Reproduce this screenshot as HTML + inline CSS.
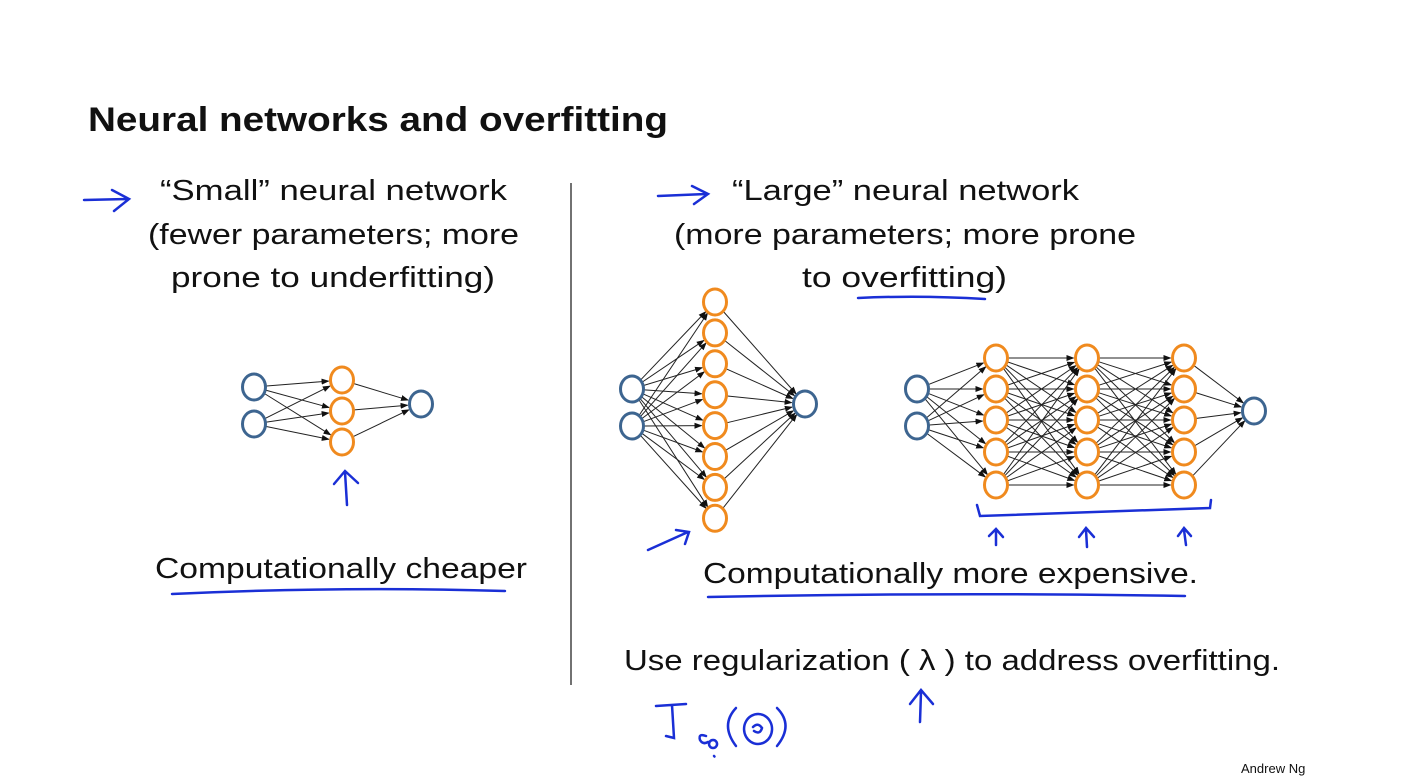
<!DOCTYPE html>
<html><head><meta charset="utf-8"><style>
html,body{margin:0;padding:0;background:#fff;}
svg{display:block;}
text{font-family:"Liberation Sans",sans-serif;fill:#111;}
</style></head><body>
<svg id="s" width="1419" height="780" viewBox="0 0 1419 780" xmlns="http://www.w3.org/2000/svg">
<defs><marker id="a" markerWidth="8" markerHeight="8" refX="7" refY="4" orient="auto" markerUnits="userSpaceOnUse"><path d="M0,1 L8,4 L0,7 z" fill="#111"/></marker></defs>
<text x="88" y="131" font-size="34" font-weight="bold" textLength="580" lengthAdjust="spacingAndGlyphs">Neural networks and overfitting</text>
<g font-size="29">
<text x="160" y="200" textLength="347" lengthAdjust="spacingAndGlyphs">“Small” neural network</text>
<text x="148" y="244" textLength="371" lengthAdjust="spacingAndGlyphs">(fewer parameters; more</text>
<text x="171" y="287" textLength="324" lengthAdjust="spacingAndGlyphs">prone to underfitting)</text>
<text x="732" y="200" textLength="347" lengthAdjust="spacingAndGlyphs">“Large” neural network</text>
<text x="674" y="244" textLength="462" lengthAdjust="spacingAndGlyphs">(more parameters; more prone</text>
<text x="802" y="287" textLength="205" lengthAdjust="spacingAndGlyphs">to overfitting)</text>
<text x="155" y="578" textLength="372" lengthAdjust="spacingAndGlyphs">Computationally cheaper</text>
<text x="703" y="583" textLength="495" lengthAdjust="spacingAndGlyphs">Computationally more expensive.</text>
<text x="624" y="670" textLength="656" lengthAdjust="spacingAndGlyphs">Use regularization ( λ ) to address overfitting.</text>
</g>
<text x="1241" y="773" font-size="13">Andrew Ng</text>
<line x1="571" y1="183" x2="571" y2="685" stroke="#444" stroke-width="1.5"/>
<g id="net"></g>
<g fill="none" stroke="#1a2fd6" stroke-width="2.5" stroke-linecap="round">
<path d="M84,200 L127,199 M112,190 L129,199 L114,211"/>
<path d="M658,196 L706,194 M692,186 L708,194 L694,204"/>
<path d="M858,298 Q920,295 985,299"/>
<path d="M172,594 Q340,586 505,591"/>
<path d="M708,597 Q950,592 1185,596"/>
<path d="M347,505 L345,472 M334,484 L345,471 L358,483"/>
<path d="M648,550 L688,532 M676,530 L689,532 L685,544"/>
<path d="M977,505 L980,516 Q1100,512 1210,508 L1211,500"/>
<path d="M996,545 L996,530 M989,536 L996,529 L1003,537"/>
<path d="M1087,547 L1086,530 M1079,537 L1086,528 L1094,537"/>
<path d="M1186,545 L1184,530 M1178,536 L1184,528 L1191,536"/>
<path d="M920,722 L921,692 M910,704 L921,690 L933,704"/>
<path d="M656,706 L686,704 M672,705 L674,738 L666,736"/>
<path d="M706,736 Q698,733 700,740 Q703,745 708,742"/>
<path d="M713,740 a4,4 0 1 0 0.1,0"/>
<path d="M736,708 Q720,725 736,746"/>
<path d="M758,714 a14,15 0 1 0 0.1,0"/>
<path d="M753,727 Q758,722 762,728 Q760,735 754,731"/>
<path d="M777,708 Q794,725 777,746"/>
<path d="M714,756 l0.5,0.5"/>
</g>
</svg>
<script>
var g=document.getElementById('net'),NS='http://www.w3.org/2000/svg',N=[];
function line(a,b){var dx=b[0]-a[0],dy=b[1]-a[1],d=Math.hypot(dx,dy),r=12.5;
var l=document.createElementNS(NS,'line');l.setAttribute('x1',a[0]+dx/d*r);l.setAttribute('y1',a[1]+dy/d*r);
l.setAttribute('x2',b[0]-dx/d*(r+1));l.setAttribute('y2',b[1]-dy/d*(r+1));l.setAttribute('stroke','#222');l.setAttribute('stroke-width','1');l.setAttribute('marker-end','url(#a)');g.appendChild(l);}
function node(p,c){var e=document.createElementNS(NS,'ellipse');e.setAttribute('cx',p[0]);e.setAttribute('cy',p[1]);e.setAttribute('rx',11.5);e.setAttribute('ry',13);e.setAttribute('fill','#fff');e.setAttribute('stroke',c);e.setAttribute('stroke-width','3');N.push(e);}
function net(layers){for(var i=0;i<layers.length-1;i++)layers[i].forEach(function(a){layers[i+1].forEach(function(b){line(a,b);});});
layers.forEach(function(ly,i){ly.forEach(function(p){node(p,(i==0||i==layers.length-1)?'#3d6590':'#f08a1e');});});}
function col(x,ys){return ys.map(function(y){return [x,y];});}
net([col(254,[387,424]),col(342,[380,411,442]),col(421,[404])]);
var h=[];for(var i=0;i<8;i++)h.push(302+i*30.9);
net([col(632,[389,426]),col(715,h),col(805,[404])]);
var h2=[358,389,420,452,485];
net([col(917,[389,426]),col(996,h2),col(1087,h2),col(1184,h2),col(1254,[411])]);
N.forEach(function(e){g.appendChild(e);});
</script>
</body></html>
